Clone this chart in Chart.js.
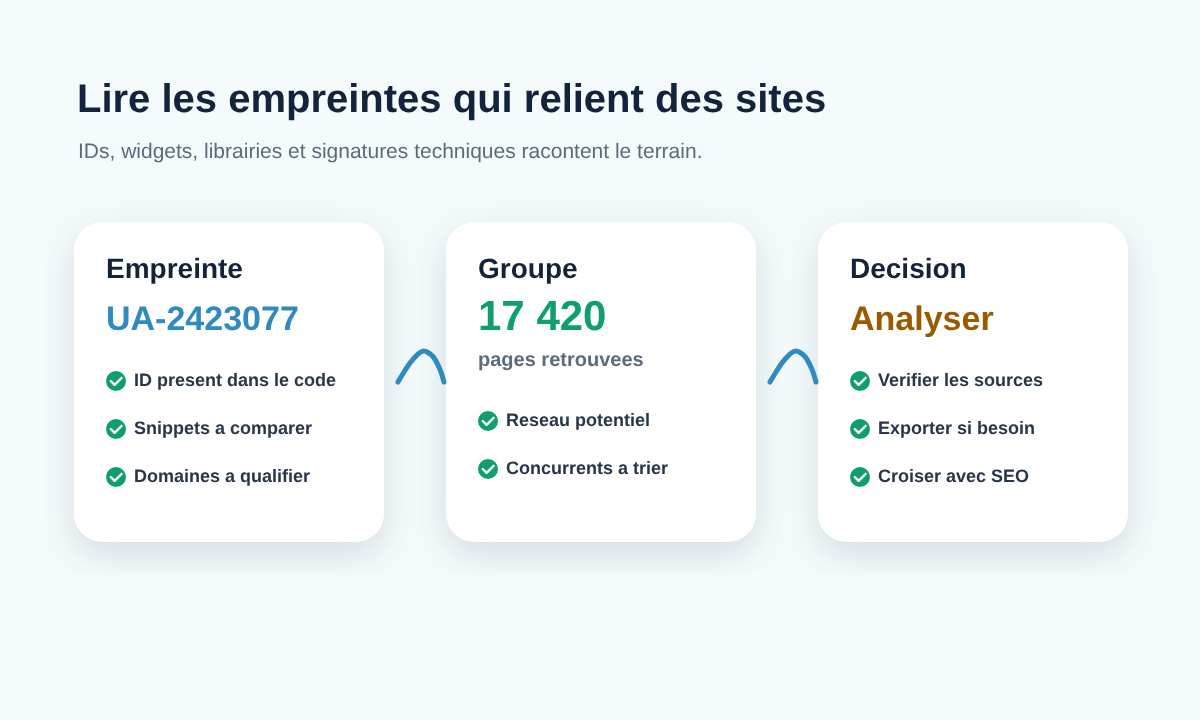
<!DOCTYPE html>
<html lang="fr">
<head>
<meta charset="utf-8">
<title>Lire les empreintes</title>
<script src="https://cdn.jsdelivr.net/npm/chart.js@4/dist/chart.umd.js"></script>
<style>
  html, body { margin: 0; padding: 0; background: #f5fbfd; }
  canvas { display: block; }
</style>
</head>
<body>
<canvas id="chart" width="1200" height="720"></canvas>
<script>
const titleText = "Lire les empreintes qui relient des sites";
const subtitleText = "IDs, widgets, librairies et signatures techniques racontent le terrain.";

const cardTitles = ["Empreinte", "Groupe", "Decision"];
const cardValues = ["UA-2423077", "17 420", "Analyser"];
const cardNotes = ["", "pages retrouvees", ""];
const cardItems = [
  ["ID present dans le code", "Snippets a comparer", "Domaines a qualifier"],
  ["Reseau potentiel", "Concurrents a trier"],
  ["Verifier les sources", "Exporter si besoin", "Croiser avec SEO"],
];
const valueColors = ["#2f8bbd", "#0f9f6e", "#9a5b00"];

// connector curve, in page units, the second one is the same shifted by arcStep
const arcX = [398, 404, 410, 416, 420, 424, 428, 433, 437, 441, 444];
const arcY = [382, 372, 363, 356, 352.5, 351, 352.5, 356.5, 363, 372, 382];
const arcStep = 372;

const CARD = { x: 74, y: 222, w: 310, h: 320, r: 28, step: 372 };
const FONT = '"Liberation Sans", Arial, sans-serif';

const itemRows = (i) => {
  const first = cardNotes[i] ? 421 : 381;
  return cardItems[i].map((_, k) => first + k * 48);
};

const checkPoints = [];
cardItems.forEach((items, i) => {
  itemRows(i).forEach((y) => checkPoints.push({ x: CARD.x + 42 + i * CARD.step, y }));
});

// round green badge with a white tick
const badge = document.createElement("canvas");
badge.width = 24;
badge.height = 24;
const b = badge.getContext("2d");
b.fillStyle = "#0f9f6e";
b.beginPath();
b.arc(12, 12, 10, 0, Math.PI * 2);
b.fill();
b.strokeStyle = "#ffffff";
b.lineWidth = 2.4;
b.lineCap = "round";
b.lineJoin = "round";
b.beginPath();
b.moveTo(6.8, 12);
b.lineTo(10.6, 15.8);
b.lineTo(17.6, 8.8);
b.stroke();

const cardsPlugin = {
  id: "cards",
  beforeDatasetsDraw(chart) {
    const { ctx, scales } = chart;
    ctx.save();
    ctx.fillStyle = "#f5fbfd";
    ctx.fillRect(0, 0, chart.width, chart.height);
    cardTitles.forEach((_, i) => {
      const x = scales.x.getPixelForValue(CARD.x + i * CARD.step);
      const y = scales.y.getPixelForValue(CARD.y);
      ctx.save();
      // the shadow stops short of the neighbouring card in the reference
      ctx.beginPath();
      ctx.rect(x - CARD.w * 0.1, y - CARD.h * 0.1, CARD.w * 1.2, CARD.h * 1.2);
      ctx.clip();
      ctx.shadowColor = "rgba(20, 45, 60, 0.15)";
      ctx.shadowBlur = 36;
      ctx.shadowOffsetY = 12;
      ctx.fillStyle = "#ffffff";
      ctx.beginPath();
      ctx.roundRect(x, y, CARD.w, CARD.h, CARD.r);
      ctx.fill();
      ctx.restore();
    });
    ctx.restore();
  },
  afterDatasetsDraw(chart) {
    const { ctx, scales } = chart;
    const text = (str, x, y, font, color) => {
      ctx.font = font + " " + FONT;
      ctx.fillStyle = color;
      ctx.fillText(str, scales.x.getPixelForValue(x), scales.y.getPixelForValue(y));
    };
    ctx.save();
    ctx.textAlign = "left";
    ctx.textBaseline = "alphabetic";
    ctx.textRendering = "geometricPrecision";
    text(titleText, 77, 112, "bold 40px", "#14233c");
    text(subtitleText, 78, 158, "21px", "#5b6b7c");
    cardTitles.forEach((title, i) => {
      const left = CARD.x + i * CARD.step + 32;
      text(title, left, 278, "bold 28px", "#14233c");
      text(cardValues[i], left, 330, i === 1 ? "bold 42px" : "bold 34px", valueColors[i]);
      if (cardNotes[i]) text(cardNotes[i], left, 366, "bold 20px", "#5b6b7c");
      const rows = itemRows(i);
      cardItems[i].forEach((item, k) => {
        text(item, left + 28, rows[k] + 5, "bold 18px", "#27364a");
      });
    });
    ctx.restore();
  },
};

const arcDataset = (offset) => ({
  type: "line",
  data: arcX.map((x, k) => ({ x: x + offset, y: arcY[k] })),
  borderColor: "#2f8bbd",
  borderWidth: 5,
  borderCapStyle: "round",
  borderJoinStyle: "round",
  tension: 0.3,
  pointRadius: 0,
  fill: false,
  clip: false,
});

new Chart(document.getElementById("chart"), {
  type: "scatter",
  data: {
    datasets: [
      arcDataset(0),
      arcDataset(arcStep),
      {
        data: checkPoints,
        pointStyle: badge,
        pointRadius: 12,
        clip: false,
      },
    ],
  },
  options: {
    responsive: false,
    animation: false,
    devicePixelRatio: 1,
    layout: { padding: 0, autoPadding: false },
    events: [],
    plugins: { legend: { display: false }, tooltip: { enabled: false } },
    scales: {
      x: { type: "linear", min: 0, max: 1200, display: false },
      y: { type: "linear", min: 0, max: 720, reverse: true, display: false },
    },
  },
  plugins: [cardsPlugin],
});
</script>
</body>
</html>
